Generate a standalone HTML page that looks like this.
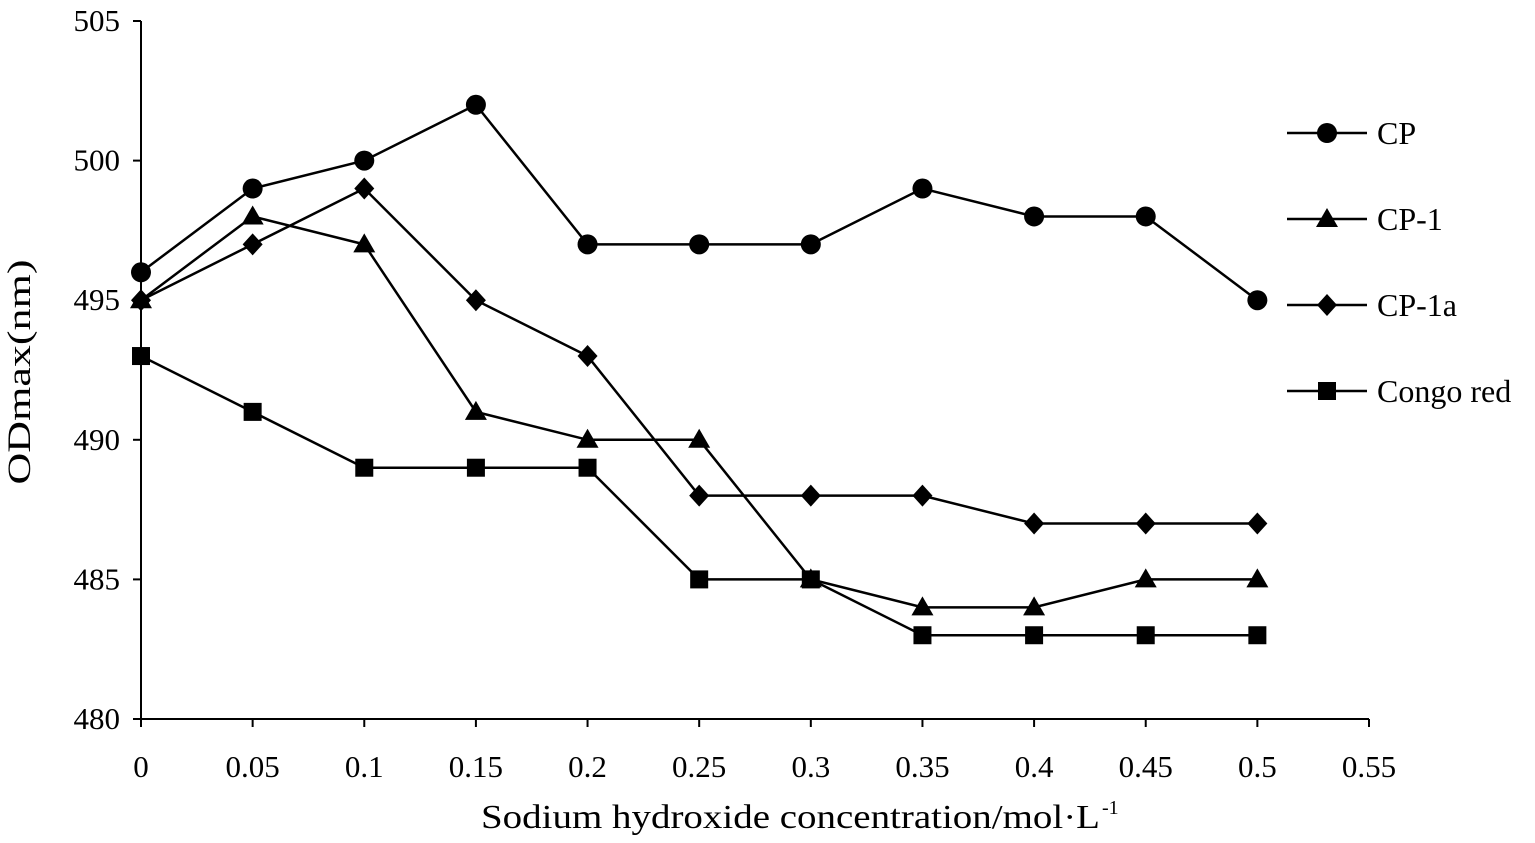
<!DOCTYPE html>
<html><head><meta charset="utf-8"><style>
html,body{margin:0;padding:0;background:#fff;}
svg{display:block;font-family:"Liberation Serif",serif;}
</style></head><body>
<svg id="chart" width="1535" height="843"></svg>
<script>
const xTicks=["0","0.05","0.1","0.15","0.2","0.25","0.3","0.35","0.4","0.45","0.5","0.55"];
const yTicks=[480,485,490,495,500,505];
const xVals=[0,0.05,0.1,0.15,0.2,0.25,0.3,0.35,0.4,0.45,0.5];
const cp=[496,499,500,502,497,497,497,499,498,498,495];
const cp1=[495,498,497,491,490,490,485,484,484,485,485];
const cp1a=[495,497,499,495,493,488,488,488,487,487,487];
const congo=[493,491,489,489,489,485,485,483,483,483,483];
const seriesNames=["CP","CP-1","CP-1a","Congo red"];

const NS="http://www.w3.org/2000/svg";
const svg=document.getElementById('chart');
const X=v=>141+(v/0.55)*(1369-141);
const Y=v=>719-(v-480)/25*(719-21);
function el(t,a,p){const e=document.createElementNS(NS,t);for(const k in a)e.setAttribute(k,a[k]);(p||svg).appendChild(e);return e;}
function txt(s,a){const e=el('text',a);e.textContent=s;return e;}

const ax=el('g',{stroke:'#000','stroke-width':2});


el('line',{x1:141,y1:21,x2:141,y2:719},ax);
el('line',{x1:141,y1:719,x2:1369,y2:719},ax);
yTicks.forEach(t=>{el('line',{x1:133,y1:Y(t),x2:141,y2:Y(t)},ax);
 const l=txt(String(t),{x:120,y:Y(t)+10,'text-anchor':'end','font-size':31});
 
 });
xTicks.forEach((t,i)=>{const xv=X(i*0.05);el('line',{x1:xv,y1:719,x2:xv,y2:727},ax);
 const l=txt(t,{x:xv,y:777,'text-anchor':'middle','font-size':31});
 
 });
const yt=txt('ODmax(nm)',{x:0,y:0,transform:'translate(30,372) rotate(-90)','text-anchor':'middle','font-size':33,textLength:225,lengthAdjust:'spacingAndGlyphs'});


const xt=txt('Sodium hydroxide concentration/mol·L',{x:481,y:828,'font-size':34,textLength:619,lengthAdjust:'spacingAndGlyphs'});


const sup=txt('-1',{x:1102,y:814,'font-size':20});



function marker(type,x,y,g){
 if(type===0)el('circle',{cx:x,cy:y,r:10,fill:'#000'},g);
 else if(type===1)el('polygon',{points:`${x},${y-11} ${x+11},${y+8} ${x-11},${y+8}`,fill:'#000'},g);
 else if(type===2)el('polygon',{points:`${x},${y-11} ${x+10},${y} ${x},${y+11} ${x-10},${y}`,fill:'#000'},g);
 else el('rect',{x:x-9,y:y-9,width:18,height:18,fill:'#000'},g);
}
const all=[cp,cp1,cp1a,congo];
all.forEach((s,k)=>{
 const g=el('g',{});
 
 
 el('polyline',{points:s.map((v,i)=>X(xVals[i])+','+Y(v)).join(' '),fill:'none',stroke:'#000','stroke-width':2.5},g);
 s.forEach((v,i)=>marker(k,X(xVals[i]),Y(v),g));
 const ly=133+k*86;
 const lg=el('g',{});
 
 
 el('line',{x1:1287,y1:ly,x2:1367,y2:ly,stroke:'#000','stroke-width':2.5},lg);
 marker(k,1327,ly,lg);
 const t=txt(seriesNames[k],{x:1377,y:ly+11,'font-size':32});
 lg.appendChild(t);
});
</script>
</body></html>
